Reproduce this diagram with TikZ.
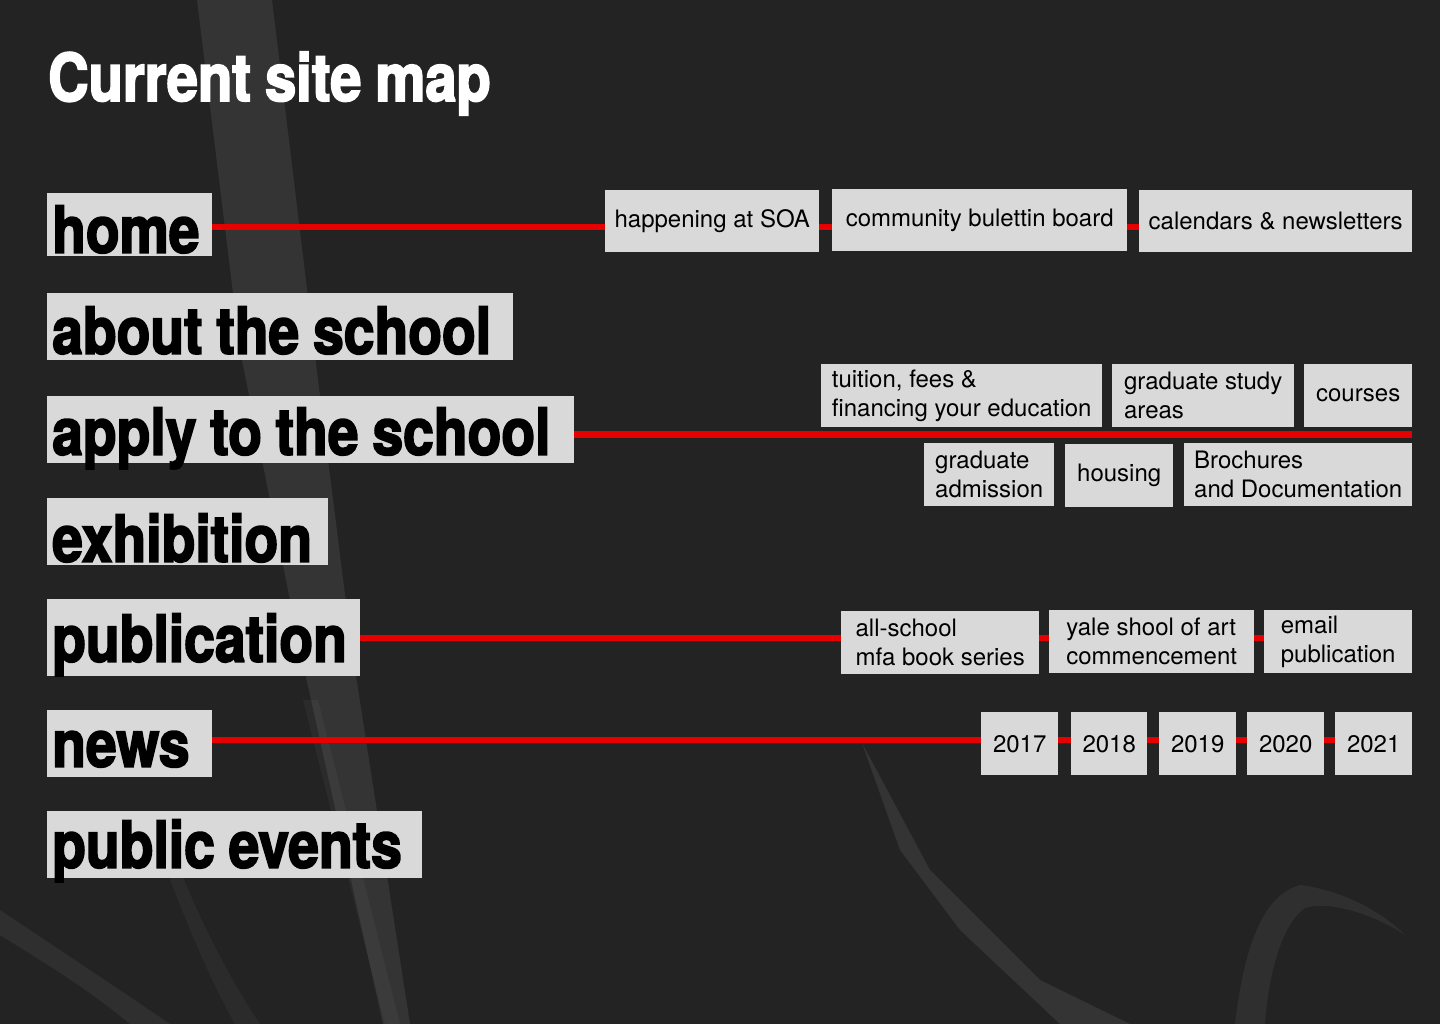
\documentclass[tikz,border=0pt]{standalone}
\usepackage{fontspec}
\setmainfont{TeX Gyre Heros}
\newfontfamily\heavy{TeX Gyre Heros}[FakeStretch=0.85,WordSpace=0.9,BoldFeatures={FakeBold=2.6}]
\usetikzlibrary{backgrounds}
\definecolor{bgdark}{HTML}{232323}
\definecolor{boxgray}{HTML}{D9D9D9}
\definecolor{lineRed}{HTML}{E60000}
\newcommand\mainlbl[2]{\makebox[#1][l]{#2}}
\tikzset{
  mainbox/.style={fill=boxgray, text=black, inner xsep=5pt, inner ysep=0pt, anchor=south west,
    font=\heavy\bfseries\fontsize{65}{65}\selectfont},
  subbox/.style={fill=boxgray, text=black, anchor=north west, inner sep=0pt, align=left,
    font=\fontsize{24}{29}\selectfont},
  redline/.style={draw=lineRed, line width=6pt},
  streak/.style={fill=white, draw=none},
}
\begin{document}
\begin{tikzpicture}[x=1pt, y=-1pt]
\useasboundingbox (0,0) rectangle (1440,1024);
% title
\node[anchor=base west, inner sep=0pt, text=white, font=\heavy\bfseries\fontsize{66}{66}\selectfont] (title) at (48,101) {Current site map};
% main sections
\node[mainbox, text height=60pt, text depth=3pt] (home) at (47,256) {\mainlbl{155pt}{home}};
\node[mainbox, text height=61pt, text depth=6pt] (about) at (47,360) {\mainlbl{456pt}{about the school}};
\node[mainbox, text height=59pt, text depth=8pt] (apply) at (47,463) {\mainlbl{517pt}{apply to the school}};
\node[mainbox, text height=64pt, text depth=3pt] (exhib) at (47,565) {\mainlbl{271pt}{exhibition}};
\node[mainbox, text height=63pt, text depth=14pt] (publ) at (47,676) {\mainlbl{303pt}{publication}};
\node[mainbox, text height=57pt, text depth=10pt] (news) at (47,777) {\mainlbl{155pt}{news}};
\node[mainbox, text height=57pt, text depth=10pt] (events) at (47,878) {\mainlbl{365pt}{public events}};
% home children
\node[subbox, minimum width=214pt, minimum height=62pt] (hap) at (605,190) {happening at SOA};
\node[subbox, minimum width=295pt, minimum height=62pt] (comm) at (832,189) {community bulettin board};
\node[subbox, minimum width=273pt, minimum height=62pt] (cal) at (1139,190) {calendars \& newsletters};
% apply children
\node[subbox, minimum width=281pt, minimum height=63pt] (tui) at (821,364) {tuition, fees \&\\financing your education};
\node[subbox, minimum width=182pt, minimum height=63pt] (gsa) at (1112,364) {graduate study\\areas};
\node[subbox, minimum width=108pt, minimum height=63pt] (crs) at (1304,364) {courses};
\node[subbox, minimum width=130pt, minimum height=63pt] (gad) at (924,443) {graduate\\admission};
\node[subbox, minimum width=108pt, minimum height=63pt] (hou) at (1065,444) {housing};
\node[subbox, minimum width=228pt, minimum height=63pt] (bro) at (1184,443) {Brochures\\and Documentation};
% publication children
\node[subbox, minimum width=198pt, minimum height=63pt] (allsch) at (841,611) {all-school\\mfa book series};
\node[subbox, minimum width=205pt, minimum height=63pt] (yale) at (1049,610) {yale shool of art\\commencement};
\node[subbox, minimum width=148pt, minimum height=63pt] (email) at (1264,610) {email\\publication};
% news children
\node[subbox, minimum width=77pt, minimum height=63pt] (y17) at (981,712) {2017};
\node[subbox, minimum width=76pt, minimum height=63pt] (y18) at (1071,712) {2018};
\node[subbox, minimum width=77pt, minimum height=63pt] (y19) at (1159,712) {2019};
\node[subbox, minimum width=77pt, minimum height=63pt] (y20) at (1247,712) {2020};
\node[subbox, minimum width=77pt, minimum height=63pt] (y21) at (1335,712) {2021};
% row levels
\coordinate (r1) at (0,227);
\coordinate (r2) at (0,434);
\coordinate (r3) at (0,638);
\coordinate (r4) at (0,740);
\begin{scope}[on background layer]
  \fill[bgdark] (0,0) rectangle (1440,1024);
  % plastic-like light streaks
  \fill[streak, opacity=0.08] (197,0) -- (272,0) -- (318,380) -- (352,650) -- (410,1024) -- (383,1024) -- (300,650) -- (240,350) -- cycle;
  \fill[streak, opacity=0.04] (303,700) -- (318,700) -- (400,1024) -- (385,1024) -- cycle;
  \fill[streak, opacity=0.08] (862,743) -- (930,870) -- (1040,980) -- (1130,1024) -- (1060,1024) -- (960,930) -- (900,850) -- cycle;
  \fill[streak, opacity=0.06] (1235,1024) .. controls (1245,940) and (1265,895) .. (1300,885) .. controls (1340,890) and (1380,910) .. (1405,935) .. controls (1375,915) and (1330,900) .. (1305,908) .. controls (1280,925) and (1268,980) .. (1265,1024) -- cycle;
  \fill[streak, opacity=0.06] (0,910) .. controls (60,950) and (120,990) .. (170,1024) -- (130,1024) .. controls (90,990) and (40,960) .. (0,935) -- cycle;
  \fill[streak, opacity=0.04] (180,870) .. controls (200,920) and (230,980) .. (260,1024) -- (235,1024) .. controls (210,980) and (190,930) .. (170,880) -- cycle;
  % connectors
  \draw[redline] (home.east |- r1) -- (cal.east |- r1);
  \draw[redline, line width=7pt] (apply.east |- r2) -- (crs.east |- r2);
  \draw[redline] (publ.east |- r3) -- (email.east |- r3);
  \draw[redline] (news.east |- r4) -- (y21.east |- r4);
\end{scope}
\end{tikzpicture}
\end{document}
